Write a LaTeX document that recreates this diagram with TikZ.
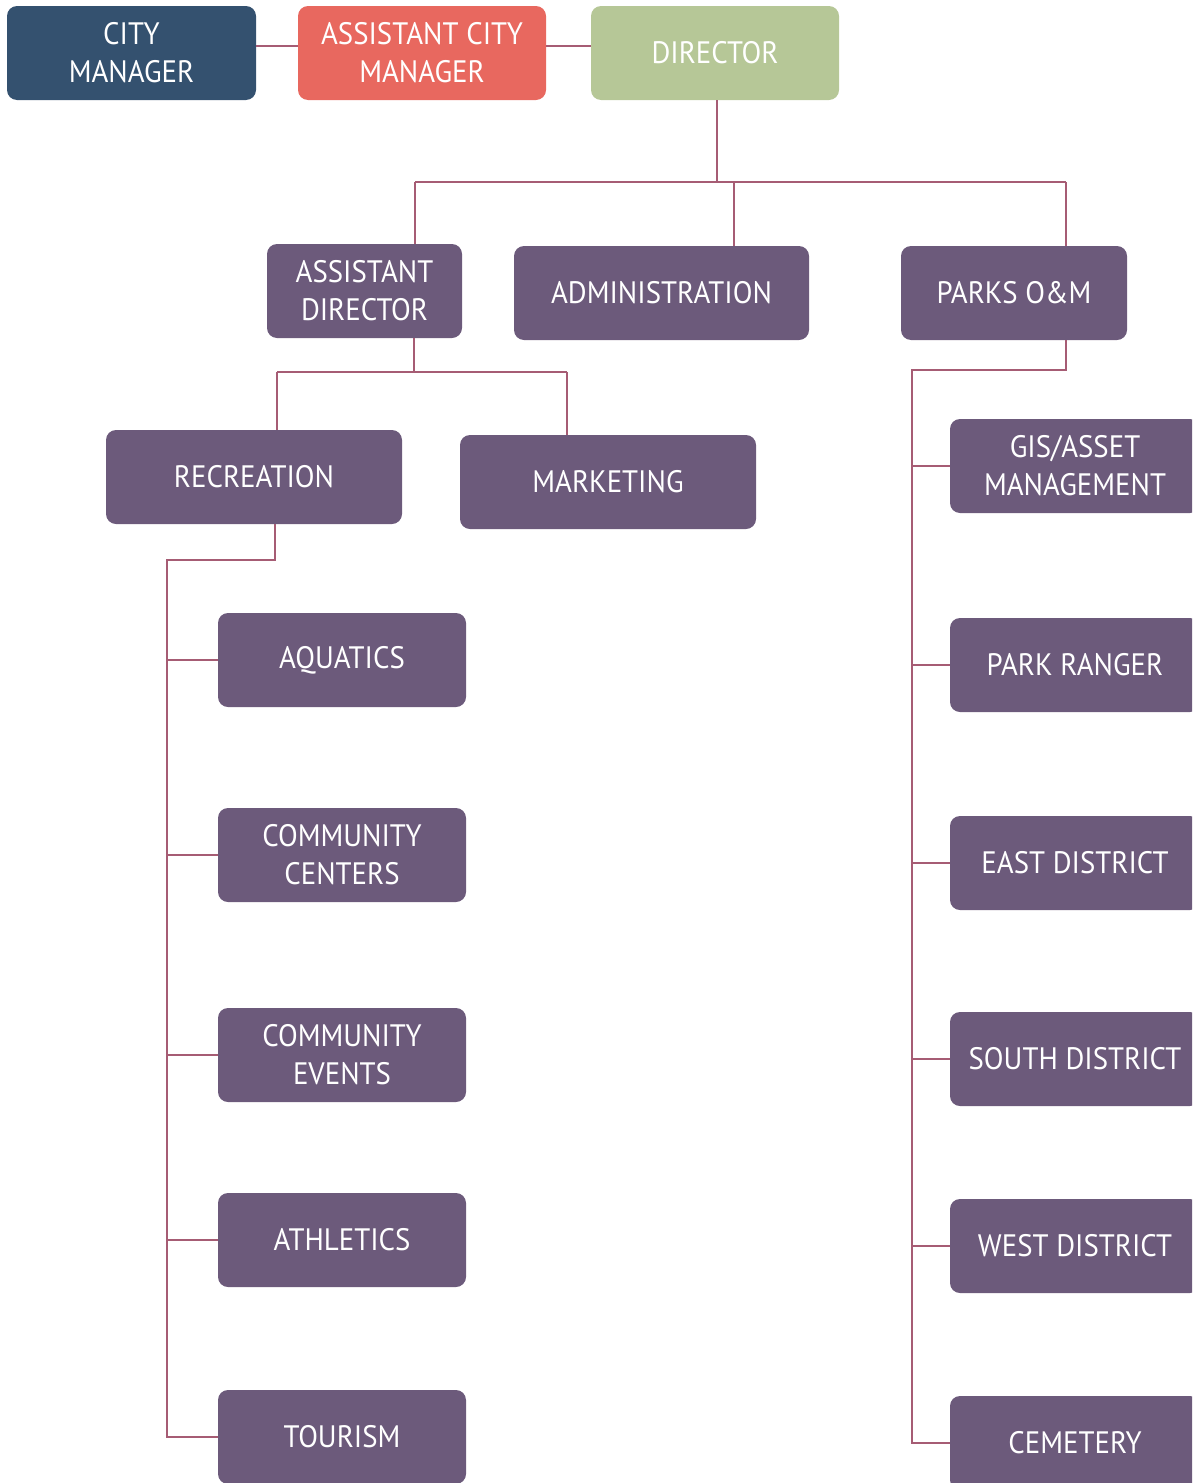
\documentclass[tikz,border=0pt]{standalone}
\usepackage{fontspec}
\setmainfont[FakeStretch=0.93]{PT Sans}
\definecolor{cmblue}{HTML}{34516F}
\definecolor{acmred}{HTML}{E8685F}
\definecolor{dirgreen}{HTML}{B6C797}
\definecolor{unitpurple}{HTML}{6C5A7B}
\definecolor{linkmauve}{HTML}{A65C74}
\begin{document}
\begin{tikzpicture}[x=1pt,y=-1pt,
  unit/.style={fill=unitpurple, rounded corners=10pt, text=white, align=center,
    inner sep=0pt, font=\fontsize{31}{38}\selectfont, minimum height=94pt},
  link/.style={draw=linkmauve, line width=2pt}]
\useasboundingbox (0,0) rectangle (1192,1483);
\clip (0,0) rectangle (1192,1483);

% top row
\node[unit, fill=cmblue, minimum width=249pt] (cm) at (131.5,53) {CITY\\MANAGER};
\node[unit, fill=acmred, minimum width=248pt] (acm) at (422,53) {ASSISTANT CITY\\MANAGER};
\node[unit, fill=dirgreen, minimum width=248pt] (dir) at (715,53) {DIRECTOR};

% second row
\node[unit, minimum width=195pt] (adir) at (364.5,291) {ASSISTANT\\DIRECTOR};
\node[unit, minimum width=295pt] (admin) at (661.5,293) {ADMINISTRATION};
\node[unit, minimum width=226pt] (parks) at (1014,293) {PARKS O\&M};

% recreation and marketing
\node[unit, minimum width=296pt] (rec) at (254,477) {RECREATION};
\node[unit, minimum width=296pt] (mkt) at (608,482) {MARKETING};

% recreation units
\node[unit, minimum width=248pt] (aqu) at (342,660) {AQUATICS};
\node[unit, minimum width=248pt] (cc) at (342,855) {COMMUNITY\\CENTERS};
\node[unit, minimum width=248pt] (ce) at (342,1055) {COMMUNITY\\EVENTS};
\node[unit, minimum width=248pt] (ath) at (342,1240) {ATHLETICS};
\node[unit, minimum width=248pt] (tour) at (342,1437) {TOURISM};

% parks units
\node[unit, minimum width=250pt] (gis) at (1075,466) {GIS/ASSET\\MANAGEMENT};
\node[unit, minimum width=250pt] (ranger) at (1075,665) {PARK RANGER};
\node[unit, minimum width=250pt] (east) at (1075,863) {EAST DISTRICT};
\node[unit, minimum width=250pt] (south) at (1075,1059) {SOUTH DISTRICT};
\node[unit, minimum width=250pt] (west) at (1075,1246) {WEST DISTRICT};
\node[unit, minimum width=250pt] (cem) at (1075,1443) {CEMETERY};

% junction points
\coordinate (toprow) at (0,46);
\coordinate (dirdrop) at (717,100);
\coordinate (busL) at (415,182);
\coordinate (busR) at (1066,182);
\coordinate (adbus) at (414,372);
\coordinate (recturn) at (275,560);
\coordinate (rectrunk) at (167,560);
\coordinate (parksturn) at (1066,370);
\coordinate (parkstrunk) at (912,370);

% top row links
\draw[link] (cm.east |- toprow) -- (acm.west |- toprow);
\draw[link] (acm.east |- toprow) -- (dir.west |- toprow);

% director to second row
\draw[link] (dirdrop) -- (dirdrop |- busL);
\draw[link] (busL) -- (busR);
\draw[link] (busL) -- (busL |- adir.north);
\draw[link] (734,182) -- (734,246);
\draw[link] (busR) -- (busR |- parks.north);

% assistant director to recreation and marketing
\draw[link] (adbus |- adir.south) -- (adbus);
\draw[link] (277,372) -- (567,372);
\draw[link] (277,372) -- (277,430);
\draw[link] (567,372) -- (567,435);

% recreation trunk
\draw[link] (recturn |- rec.south) -- (recturn) -- (rectrunk) -- (rectrunk |- tour.west) -- (tour.west);
\foreach \n in {aqu,cc,ce,ath}
  \draw[link] (rectrunk |- \n.west) -- (\n.west);

% parks trunk
\draw[link] (parksturn |- parks.south) -- (parksturn) -- (parkstrunk) -- (parkstrunk |- cem.west) -- (cem.west);
\foreach \n in {gis,ranger,east,south,west}
  \draw[link] (parkstrunk |- \n.west) -- (\n.west);
\end{tikzpicture}
\end{document}
